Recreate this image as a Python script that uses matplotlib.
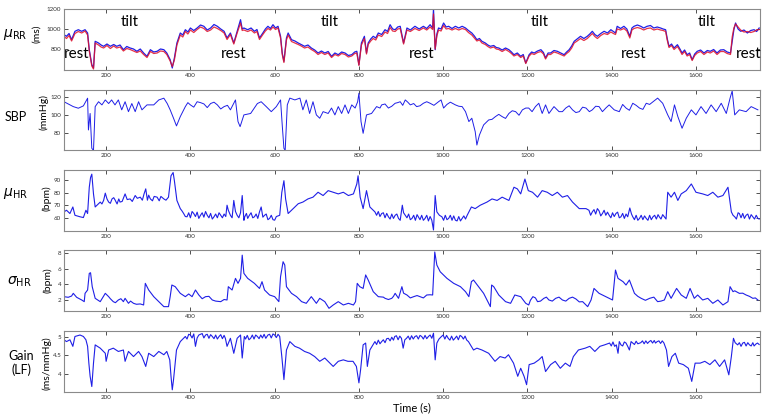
import matplotlib
matplotlib.use('Agg')
import matplotlib.pyplot as plt
import numpy as np

plt.rcParams['font.family'] = ['Lato', 'DejaVu Sans']

# mu_RR (ms): time, blue trace, red trace
t_rr = [100,106,112,118,126,134,142,150,156,160,
        166,170,174,182,188,194,202,210,218,225,
        233,241,249,257,265,273,281,289,297,305,
        313,321,329,337,344,352,357,362,368,376,
        382,388,394,400,408,416,424,432,440,448,
        456,464,472,480,487,495,503,511,519,523,
        527,536,544,552,558,564,572,578,584,590,
        596,602,608,614,618,622,628,632,640,648,
        656,663,671,679,687,695,703,711,719,727,
        735,743,751,759,767,775,783,790,795,800,
        806,813,818,822,828,834,840,846,854,862,
        868,874,880,886,892,898,906,914,922,933,
        943,953,961,969,975,977,981,985,989,995,
        1001,1007,1013,1021,1029,1037,1045,1053,1060,1068,
        1074,1080,1086,1092,1100,1106,1112,1120,1126,1132,
        1140,1148,1156,1162,1168,1176,1184,1190,1196,1204,
        1210,1216,1224,1232,1238,1243,1249,1255,1263,1271,
        1279,1287,1293,1299,1305,1311,1318,1326,1334,1342,
        1348,1354,1360,1366,1374,1382,1390,1398,1404,1409,
        1413,1421,1429,1436,1443,1448,1453,1461,1469,1476,
        1484,1492,1500,1508,1516,1522,1528,1532,1536,1542,
        1548,1556,1562,1567,1573,1579,1585,1591,1597,1603,
        1611,1619,1627,1634,1642,1650,1658,1666,1674,1682,
        1686,1690,1694,1700,1706,1714,1722,1730,1738,1744,
        1750]
rr_blue = [943,927,955,893,977,993,977,993,960,793,
           643,610,877,860,840,827,850,827,845,827,
           840,793,825,810,800,777,800,760,727,793,
           770,777,800,793,760,693,610,710,860,960,
           940,993,970,1010,985,1010,1040,1027,990,1010,
           1045,1027,1000,977,910,960,860,977,1093,1000,
           1010,993,1010,977,995,910,960,1000,1027,1005,
           1043,1010,1027,927,760,677,910,960,893,880,
           860,845,827,840,810,790,760,780,760,775,
           727,760,743,770,760,735,743,770,777,643,
           860,927,760,860,900,927,910,960,945,993,
           975,1043,1000,993,1020,1027,860,1010,990,1027,
           1000,1027,1005,1043,1010,1200,793,950,1010,1000,
           1060,1020,1027,1005,1027,1010,1027,1010,985,960,
           930,893,905,877,860,840,827,835,815,810,
           790,810,793,770,743,760,727,745,660,743,
           770,760,780,793,765,710,760,760,785,777,
           760,743,770,793,830,877,900,927,905,927,
           950,977,945,927,955,977,960,993,975,960,
           1027,1005,1027,1000,927,1010,1027,1040,1027,1010,
           1027,1035,1010,1020,1010,1000,993,900,827,850,
           810,843,800,760,790,743,760,693,750,777,
           790,760,785,777,795,760,790,793,770,760,
           880,993,1060,1000,977,990,960,985,993,975,
           1010]
rr_red = [925,905,935,880,955,975,960,980,940,780,
          630,600,860,840,820,810,835,805,830,810,
          820,780,805,795,780,765,780,745,715,775,
          755,760,780,775,745,680,625,690,840,940,
          920,975,950,990,965,995,1020,1005,975,990,
          1020,1005,985,960,895,945,850,960,1060,985,
          990,975,990,960,975,895,945,980,1005,990,
          1020,995,1010,910,745,665,890,940,875,860,
          845,830,810,820,795,775,745,765,745,760,
          715,745,730,755,745,720,730,755,760,635,
          840,905,750,845,880,905,890,940,925,970,
          955,1015,980,975,1000,1005,850,990,975,1005,
          985,1010,990,1020,995,1150,800,930,990,980,
          1035,1000,1005,990,1005,990,1005,995,965,940,
          910,880,890,860,845,825,810,820,800,795,
          775,795,775,755,730,745,715,730,655,730,
          755,745,765,775,750,700,745,745,770,760,
          745,730,755,775,810,860,880,905,885,905,
          930,955,925,905,935,955,945,970,955,945,
          1000,990,1005,980,910,990,1005,1015,1005,990,
          1005,1010,990,1000,990,985,975,885,815,835,
          795,825,785,745,775,730,745,685,735,760,
          775,745,770,760,780,745,775,775,755,745,
          920,1010,1050,1020,990,970,975,965,975,990,
          995]

# SBP (mmHg)
t_sbp = [100,110,122,134,146,156,158,162,166,170,
         174,182,190,198,206,213,221,229,237,245,
         253,261,269,277,285,297,305,313,325,337,
         345,352,360,367,376,388,400,416,432,448,
         464,480,495,507,513,518,527,543,559,568,
         580,592,604,614,618,622,625,630,636,648,
         660,667,675,683,691,699,707,715,727,735,
         743,751,759,767,775,783,791,797,800,805,
         810,818,830,842,854,870,886,898,910,922,
         937,953,969,989,995,1001,1009,1029,1045,1053,
         1061,1068,1076,1080,1086,1096,1108,1124,1140,1156,
         1172,1188,1203,1219,1227,1235,1243,1251,1263,1275,
         1291,1307,1323,1339,1354,1370,1386,1394,1406,1418,
         1434,1450,1466,1482,1498,1509,1521,1533,1541,1549,
         1557,1567,1577,1589,1600,1612,1624,1636,1648,1660,
         1672,1681,1686,1692,1703,1719,1731,1747]
sbp = [115,112.6,109.6,107.8,110.4,118.9,83.7,102,63.4,61,
       109.6,115,111.5,117,113,117,111.5,117,106,115,
       104,113,104,115,106,111.5,111.5,111.5,117,118.9,
       113,106,96.7,88.2,98.5,109.6,111.5,115,112.6,113,
       111.5,109.6,106,117,93,87.4,100.4,102,113,115,
       109.6,104,109.6,117,89,63.4,61,111.5,119,117,
       119,106,117,102,115,100.4,96.7,104,102,108,
       100.4,109.6,102,111.5,102,111.5,108,115,124.4,93,
       80,100.4,102,109.6,111.5,108,113.3,115,117,111.5,
       109.6,113.3,113.3,115,117,108,112,111.5,109.6,104,
       93,96.7,81.9,67,78,89.3,94.8,98.5,98.5,102,
       104,106,108,109.6,113.3,102,111.5,102,109.6,104,
       108,106,104,108,106,109.6,108,111.5,106,104,
       108,113.3,108,113.3,115,119,113.3,100.4,93,111.5,
       98.5,85.6,96.7,106,100.4,109.6,102,111.5,104,113.3,
       102,119,127,100.4,106,104,109.6,106]
# small wiggles read in the flatter stretches
t_sbp_fine = [394,408,424,440,456,472,488,
              850,862,878,892,904,916,930,945,961,978,1017,1037,
              1116,1132,1148,1164,1180,1196,1211,1283,1299,1315,1331,1347,1362,1378,
              1426,1442,1458,1474,1490]
sbp_fine = [114,109,114,108.5,114.5,107,111,
            108,112.5,110,114,111,114.5,113,110.5,115,111,114.5,110,
            95.5,101,96.5,105,100,108,104,104,110.5,103,109,104,110,104,
            112,105.5,111,106.5,112]

# mu_HR (bpm)
t_hr = [100,106,114,121,126,138,146,152,156,160,
        163,166,170,174,186,194,198,206,214,221,
        233,245,257,269,281,294,305,321,337,348,
        354,359,362,368,376,384,392,408,424,440,
        456,472,487,495,503,511,523,527,529,540,
        552,564,568,576,588,600,612,617,622,626,
        632,644,656,667,679,691,703,715,727,739,
        751,763,775,787,795,798,803,810,818,826,
        838,854,870,886,894,903,910,926,941,957,
        973,977,981,985,997,1013,1029,1045,1057,1067,
        1076,1088,1104,1116,1128,1140,1156,1168,1176,1184,
        1194,1202,1212,1224,1235,1247,1259,1271,1283,1295,
        1307,1323,1339,1354,1366,1378,1394,1410,1422,1438,
        1443,1450,1466,1482,1498,1513,1525,1533,1541,1549,
        1557,1565,1577,1589,1600,1616,1628,1640,1652,1664,
        1676,1684,1692,1703,1719,1735,1747]
hr = [64.7,66,63.4,68.6,62,60.8,60.2,66,63.4,84.3,
      92,94.7,79,68.6,72.5,73.8,79.6,72.5,75,74.3,
      72.5,79,75,77.7,76.4,83,75,76.4,75,76.4,
      93.4,96,89.5,73.8,67.3,63.4,60.8,63.4,62,62,
      60.8,62,70,62,73.8,62,77.7,58,60.8,62,
      60.8,64.7,68.6,62,59.5,58.1,62,80.3,89.5,75,
      63.4,67.3,71.2,72.5,75,76.4,80.3,77.7,81.6,80.3,
      79,80.3,77.7,79,86.9,93.4,76.4,67.3,81.6,68.6,
      64.7,63.4,60.8,62,59.5,70,62,59.5,60.8,59.5,
      58.1,50.3,77.7,64.7,60.8,59.5,58.1,59.5,62,68.6,
      67.3,70,72.5,75,73.8,76.4,73.8,84.3,83,79,
      90.8,81.6,80.3,76.4,81.6,80.3,77.7,80.3,76.4,77.7,
      72.5,67.3,67.3,64.7,67.3,63.4,62,63.4,60.8,60.8,
      67.8,60.8,59.5,59.5,60.8,60.8,60.8,80.3,76.4,80.3,
      73.8,79,81.6,86.9,80.3,79,77.7,80.3,76.4,77.7,
      84.3,64.7,60.8,63.4,62,60.8,59.5]
t_hr_fine = [190,202,210,218,226,230,238,250,262,274,286,290,298,301,310,314,326,330,342,
             380,388,396,400,404,412,416,420,428,432,436,444,448,452,460,464,468,476,480,484,
             490,499,507,515,519,533,536,544,548,556,560,572,580,584,592,596,604,
             842,846,850,858,862,866,874,878,882,890,898,906,914,918,922,930,934,938,945,949,953,961,965,969,
             991,1001,1005,1009,1017,1021,1025,1033,1037,1041,1049,1053,
             1346,1350,1358,1362,1370,1374,1382,1386,1390,1398,1402,1406,1414,1418,1426,1430,1434,
             1447,1454,1458,1462,1470,1474,1478,1486,1490,1494,1502,1506,1510,1517,1521,1529,
             1688,1696,1700,1707,1711,1715,1723,1727,1731,1739,1743,1750]
hr_fine = [71,75,71.5,76,71,75,73,74.5,73,75.5,74,79,74,78,73.5,77,73.5,77,74,
           65.5,61,64,60,65,61,64.5,59.5,64,60.5,65,60,63.5,59,63,60,64,60,63,61,
           66,60,65,60,64,63.5,59.5,64,60,63,59.5,60.5,63,58.5,62,58.5,61,
           62,65,61,64,60,63.5,59,63,59.5,63,58,64,60,63,58.5,62,58,62.5,58.5,62,58,62,57.5,61,
           62,58,62,58.5,62,58,61.5,57.5,61,57.5,61.5,59,
           66,62,66.5,63,65.5,61.5,66,62,64.5,60,64,61,64.5,60,63.5,59.5,63,
           63,58.5,62,58,62,58.5,61.5,58,62,58.5,62,59,62.5,59,62.5,59,
           62,59,64,60,63.5,59.5,63,59,62.5,59,62,59]

# sigma_HR (bpm)
t_sd = [100,110,118,122,130,142,148,150,156,160,
        163,167,174,186,198,206,217,229,241,245,
        253,265,281,289,293,301,313,325,337,348,
        352,356,364,376,388,404,412,420,436,452,
        472,487,490,499,507,513,519,523,527,536,
        552,564,570,576,588,600,610,614,620,624,
        628,640,652,664,675,687,699,707,719,729,
        739,751,763,775,787,792,796,802,810,816,
        822,834,846,862,878,886,894,902,914,930,
        945,961,975,980,985,993,1009,1025,1041,1053,
        1061,1067,1072,1084,1096,1108,1112,1115,1120,1132,
        1148,1160,1170,1184,1196,1203,1213,1224,1239,1251,
        1267,1283,1299,1315,1331,1343,1351,1358,1370,1386,
        1402,1409,1415,1427,1434,1442,1454,1470,1490,1509,
        1525,1533,1541,1554,1565,1577,1586,1596,1604,1616,
        1628,1640,1652,1664,1676,1681,1688,1703,1719,1735,
        1747]
sd_hr = [2.46,2.38,2.54,2.88,2.38,2.04,1.83,2.88,3.3,5.4,
         5.48,3.72,2.25,1.83,2.88,2.46,1.83,2.04,1.83,2.25,
         1.62,1.62,1.54,1.41,4.14,3.3,2.46,1.83,1.2,1.2,
         2.46,3.93,3.72,2.88,2.46,2.46,3.3,2.67,2.46,2.04,
         1.83,2.04,3.72,3.3,4.77,4.14,4.77,7.7,5.4,4.77,
         4.14,3.5,4.35,3.3,2.67,2.46,1.83,4.98,6.87,6.45,
         3.72,2.88,2.46,1.83,1.62,2.46,1.62,2.25,1.83,0.99,
         1.41,1.83,1.41,1.62,1.41,1.83,4.14,3.72,3.5,5.2,
         4.56,3.09,2.46,2.25,2.25,2.88,2.25,3.72,2.67,2.46,
         2.46,2.67,2.67,8.1,6.45,5.6,4.77,4.14,3.72,3.09,
         2.46,4.35,4.56,3.72,2.88,1.62,1.2,3.93,3.72,2.67,
         1.83,1.62,2.67,2.46,1.62,1.41,2.46,1.83,2.25,2.04,
         2.25,2.04,2.25,2.17,1.83,1.2,2.04,3.5,2.88,2.46,
         2.04,5.82,4.77,4.35,3.93,4.56,2.88,2.25,2.25,1.83,
         2.04,3.09,2.25,3.5,2.67,2.25,3.5,2.25,2.67,2.04,
         2.25,1.62,2.04,1.41,1.83,3.72,3.09,2.88,2.67,2.25,
         2.04]
t_sd_fine = [210,222,235,258,272,396,428,444,460,480,
             858,870,882,906,922,938,953,969,
             1207,1219,1231,1245,1259,1275,1291,1307,1323,
             1462,1480,1500,1517,1692,1711,1727,1741]
sd_fine = [2.2,1.7,2.2,1.9,1.5,2.8,2.2,2.5,1.9,2.1,
           2.4,2.1,2.5,2.9,2.3,2.6,2.3,2.7,
           2.0,2.3,1.9,2.4,1.9,2.4,1.9,2.4,1.8,
           2.5,2.0,2.4,1.9,3.2,2.9,2.5,2.3]

# Gain LF (ms/mmHg)
t_gain = [100,106,114,121,126,138,146,152,156,159,
          162,166,170,174,186,198,200,206,217,229,
          241,245,253,265,277,285,294,301,313,325,
          337,344,351,354,357,360,367,376,388,400,
          412,420,436,452,468,483,487,495,503,511,
          519,523,528,543,559,584,600,612,617,622,
          628,636,648,659,671,683,695,707,719,731,
          739,751,763,774,786,794,800,804,810,816,
          820,826,838,854,870,885,901,905,913,933,
          949,965,977,981,985,996,1012,1028,1044,1060,
          1072,1080,1092,1108,1123,1135,1147,1155,1167,1177,
          1184,1192,1198,1204,1216,1227,1235,1243,1255,1266,
          1278,1290,1301,1309,1321,1337,1348,1360,1372,1383,
          1395,1411,1415,1422,1434,1442,1450,1469,1489,1508,
          1524,1530,1535,1543,1551,1559,1570,1582,1590,1598,
          1610,1621,1633,1645,1656,1668,1678,1684,1689,1699,
          1711,1727,1742,1750]
gain = [4.93,4.88,4.93,4.75,5.02,5.06,5.02,4.93,4.75,4.29,
        3.93,3.65,4.29,4.79,4.7,4.56,4.34,4.65,4.7,4.61,
        4.65,4.34,4.61,4.47,4.61,4.47,4.2,4.56,4.47,4.61,
        4.52,4.61,4.38,3.93,3.56,3.84,4.65,4.88,5.02,5.06,
        4.75,5.06,5.06,5.02,5.02,4.97,4.75,4.97,4.56,4.97,
        5.06,4.43,5.02,4.97,5.02,5.06,5.06,5.02,4.47,3.84,
        4.65,4.88,4.75,4.7,4.61,4.56,4.47,4.34,4.43,4.29,
        4.2,4.34,4.38,4.34,4.34,4.2,3.75,4.11,4.79,4.84,
        4.2,4.65,4.88,4.88,4.97,5.02,4.97,4.7,4.97,5.02,
        5.02,5.02,5.11,4.38,4.84,5.02,4.97,4.97,5.02,4.88,
        4.65,4.7,4.65,4.56,4.34,4.47,4.43,4.52,4.29,3.93,
        4.15,3.93,3.7,4.25,4.29,4.38,4.47,4.06,4.25,4.34,
        4.15,4.29,4.2,4.47,4.65,4.7,4.75,4.61,4.75,4.79,
        4.84,4.79,4.56,4.79,4.84,4.65,4.84,4.85,4.88,4.88,
        4.84,4.65,4.2,4.47,4.56,4.29,4.25,4.15,3.79,4.29,
        4.29,4.34,4.25,4.38,4.2,4.38,3.97,4.47,4.97,4.79,
        4.84,4.79,4.81,4.8]
t_gain_fine = [392,396,404,408,416,428,432,440,444,448,456,460,464,472,476,480,
               531,535,539,547,551,555,563,567,571,575,579,588,592,596,604,608,
               842,846,850,858,862,866,874,878,882,889,893,897,909,917,921,925,929,
               937,941,945,953,957,961,969,973,990,1000,1004,1008,1016,1020,1024,
               1032,1036,1040,1048,1052,1056,
               1399,1403,1407,1418,1426,1430,1438,1446,1454,1458,1462,1473,1477,1481,
               1485,1493,1497,1501,1504,1512,1516,1520,
               1693,1703,1707,1715,1719,1723,1731,1735,1738,1746]
gain_fine = [4.95,5.08,4.98,5.09,4.98,5.1,4.98,5.08,4.97,5.07,4.96,5.06,4.95,5.07,4.96,5.05,
             4.95,5.05,4.93,5.06,4.95,5.06,4.96,5.06,4.98,5.08,4.97,5.08,4.98,5.09,4.99,5.08,
             4.8,4.92,4.82,4.93,4.85,4.96,4.9,5.0,4.92,5.04,4.93,5.03,4.93,5.03,4.93,5.04,4.95,
             5.04,4.95,5.05,4.95,5.05,4.96,5.06,4.97,4.95,5.06,4.95,5.05,4.92,5.03,4.92,
             5.03,4.93,5.05,4.95,5.03,4.92,
             4.76,4.87,4.75,4.88,4.76,4.87,4.75,4.88,4.8,4.89,4.82,4.9,4.82,4.9,
             4.83,4.91,4.84,4.91,4.84,4.9,4.83,4.9,
             4.85,4.85,4.75,4.86,4.76,4.85,4.76,4.85,4.76,4.84]

# phase labels in the top panel
phase_text = ['rest', 'tilt', 'rest', 'tilt', 'rest', 'tilt', 'rest', 'tilt', 'rest']
phase_t = [130, 255, 502, 731, 949, 1230, 1453, 1625, 1725]
phase_y = [750, 1070, 750, 1070, 750, 1070, 750, 1070, 750]


def merged(t_a, v_a, t_b, v_b):
    t = np.concatenate([t_a, t_b])
    v = np.concatenate([v_a, v_b])
    order = np.argsort(t, kind='stable')
    return t[order], v[order]


BLUE = '#1f1fe6'
RED = '#e0102a'
W, H = 767, 419

fig = plt.figure(figsize=(W/100, H/100), dpi=100)

# pixel rows (top, bottom) of each panel
rows = [(9, 70), (90, 150), (170, 231), (250, 311), (331, 392)]
axes = []
for top, bot in rows:
    ax = fig.add_axes([64/W, 1-bot/H, 696/W, (bot-top)/H])
    axes.append(ax)

ax1, ax2, ax3, ax4, ax5 = axes
ax1.plot(t_rr, rr_blue, color=BLUE, lw=0.9)
ax1.plot(t_rr, rr_red, color=RED, lw=0.9, alpha=0.85)
ax1.set_ylim(590, 1200)
ax1.set_yticks([800, 1000, 1200])
for s, x, y in zip(phase_text, phase_t, phase_y):
    ax1.text(x, y, s, fontsize=11, ha='center', va='center', color='black')

ax2.plot(*merged(t_sbp, sbp, t_sbp_fine, sbp_fine), color=BLUE, lw=0.7)
ax2.set_ylim(61.5, 128)
ax2.set_yticks([80, 100, 120])

ax3.plot(*merged(t_hr, hr, t_hr_fine, hr_fine), color=BLUE, lw=0.8)
ax3.set_ylim(49.5, 98)
ax3.set_yticks([60, 70, 80, 90])

ax4.plot(*merged(t_sd, sd_hr, t_sd_fine, sd_fine), color=BLUE, lw=0.8)
ax4.set_ylim(0.65, 8.35)
ax4.set_yticks([2, 4, 6, 8])

ax5.plot(*merged(t_gain, gain, t_gain_fine, gain_fine), color=BLUE, lw=0.8)
ax5.set_ylim(3.5, 5.17)
ax5.set_yticks([4, 4.5, 5])
ax5.set_yticklabels(['4', '4.5', '5'])

for ax in axes:
    ax.set_xlim(100, 1752)
    ax.set_xticks([200, 400, 600, 800, 1000, 1200, 1400, 1600])
    ax.tick_params(direction='in', length=3, width=0.6, labelsize=4.5,
                   top=True, right=True, colors='#333333', pad=2)
    for sp in ax.spines.values():
        sp.set_color('#8a8a8a')
        sp.set_linewidth(0.8)

ax5.set_xlabel('Time (s)', fontsize=8, labelpad=2)

# outer labels
def ftext(x, y, s, **kw):
    fig.text(x/W, 1-y/H, s, ha='center', va='center', **kw)

ftext(15, 34, r'$\mu_{\mathrm{RR}}$', fontsize=10)
ftext(37, 34, '(ms)', fontsize=7.5, rotation=90)
ftext(16, 117, 'SBP', fontsize=9)
ftext(44, 112, '(mmHg)', fontsize=7.5, rotation=90)
ftext(15, 193, r'$\mu_{\mathrm{HR}}$', fontsize=10)
ftext(47, 198, '(bpm)', fontsize=7.5, rotation=90)
ftext(19, 282, r'$\sigma_{\mathrm{HR}}$', fontsize=10)
ftext(48, 280, '(bpm)', fontsize=7.5, rotation=90)
ftext(21, 363, 'Gain\n(LF)', fontsize=9, linespacing=1.2)
ftext(47, 363, '(ms/mmHg)', fontsize=7.5, rotation=90)

fig.savefig('out.png', dpi=100)
